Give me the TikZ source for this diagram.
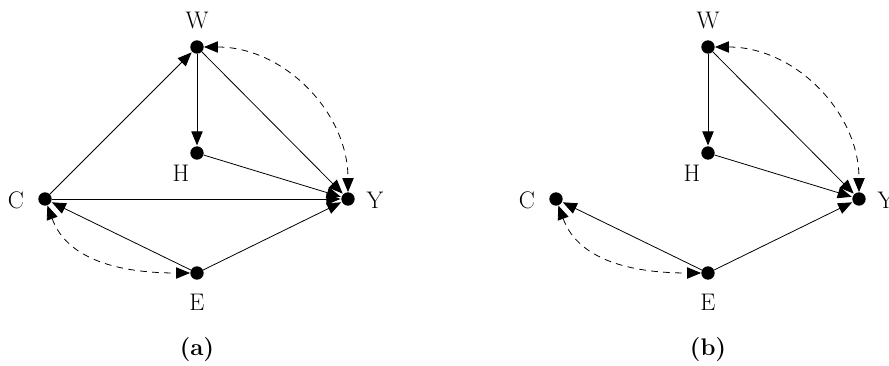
\documentclass[tikz,border=0pt]{standalone}
\usepackage{fontspec}
\usetikzlibrary{arrows.meta}
\begin{document}
\begin{tikzpicture}[x=0.75pt,y=-0.75pt,
  vtx/.style={circle,fill=black,inner sep=0pt,minimum size=10pt},
  lbl/.style={font=\fontsize{18}{20}\selectfont,inner sep=0pt},
  captxt/.style={font=\fontsize{18}{20}\selectfont\bfseries,inner sep=0pt},
  dir/.style={-{Triangle[length=10.5pt,width=8.5pt]},semithick,shorten >=0.5pt},
  bi/.style={{Triangle[length=10.5pt,width=8.5pt]}-{Triangle[length=10.5pt,width=8.5pt]},semithick,dashed,dash pattern=on 5pt off 4pt}]
\useasboundingbox (0,0) rectangle (889,365);
% (a)
\node[vtx] (aW) at (197,47) {};
\node[vtx] (aH) at (197,153) {};
\node[vtx] (aC) at (45,199) {};
\node[vtx] (aY) at (348,199) {};
\node[vtx] (aE) at (197,273) {};
\node[lbl] (laW) at (197,20) {W};
\node[lbl] (laH) at (181,173) {H};
\node[lbl] (laC) at (16,200) {C};
\node[lbl] (laY) at (375,200) {Y};
\node[lbl] (laE) at (197,302) {E};
\node[captxt] (capa) at (197,350) {(a)};
\draw[dir] (aC) -- (aW);
\draw[dir] (aW) -- (aH);
\draw[dir] (aW) -- (aY);
\draw[dir] (aH) -- (aY);
\draw[dir] (aC) -- (aY);
\draw[dir] (aE) -- (aC);
\draw[dir] (aE) -- (aY);
\draw[bi] (aW) to[out=0,in=90] (aY);
\draw[bi] (aC) to[out=-70,in=180] (aE);
% (b)
\node[vtx] (bW) at (708,47) {};
\node[vtx] (bH) at (708,153) {};
\node[vtx] (bC) at (556,199) {};
\node[vtx] (bY) at (859,199) {};
\node[vtx] (bE) at (708,273) {};
\node[lbl] (lbW) at (708,20) {W};
\node[lbl] (lbH) at (692,173) {H};
\node[lbl] (lbC) at (527,200) {C};
\node[lbl] (lbY) at (886,200) {Y};
\node[lbl] (lbE) at (708,302) {E};
\node[captxt] (capb) at (708,350) {(b)};
\draw[dir] (bW) -- (bH);
\draw[dir] (bW) -- (bY);
\draw[dir] (bH) -- (bY);
\draw[dir] (bE) -- (bC);
\draw[dir] (bE) -- (bY);
\draw[bi] (bW) to[out=0,in=90] (bY);
\draw[bi] (bC) to[out=-70,in=180] (bE);
\end{tikzpicture}
\end{document}
